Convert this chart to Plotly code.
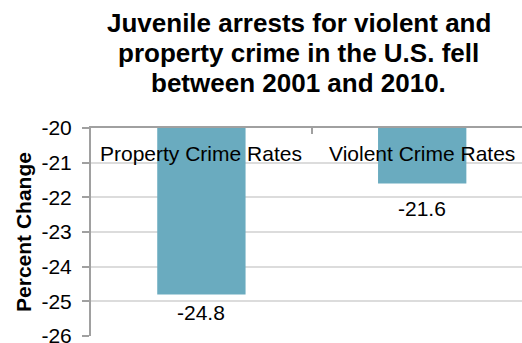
import plotly.graph_objects as go

categories = ["Property Crime Rates", "Violent Crime Rates"]
values = [-24.8, -21.6]
label_texts = ["-24.8", "-21.6"]
title_lines = ["Juvenile arrests for violent and",
               "property crime in the U.S. fell",
               "between 2001 and 2010."]
y_tickvals = [-26, -25, -24, -23, -22, -21, -20]
y_ticktext = ["-26", "-25", "-24", "-23", "-22", "-21", "-20"]

FONT = "Liberation Sans, Arial, sans-serif"
W, H = 522, 343
ML, MR, MT, MB = 91, 0, 128, 7
PH = H - MT - MB
PW = W - ML - MR
AXIS_GRAY = "#a0a0a0"
Y_TOP = -20

fig = go.Figure()
fig.add_trace(go.Bar(
    x=categories, y=values, width=0.4,
    marker=dict(color="#6aabbf", line=dict(width=0)),
    hoverinfo="skip",
))

label_shift = {0: -5, 1: -12}
for i, (c, v, t) in enumerate(zip(categories, values, label_texts)):
    fig.add_annotation(x=c, y=v, text=t, showarrow=False, yanchor="top",
                       yshift=label_shift[i], font=dict(family=FONT, size=21, color="#000"))

# category labels drawn just under the top axis line, inside the plot
for c in categories:
    fig.add_annotation(x=c, y=Y_TOP, text=c, showarrow=False, yanchor="middle",
                       yshift=-25, font=dict(family=FONT, size=21, color="#000"))

# title, one annotation per line (tighter line spacing than plotly's title)
title_centers_px = [23, 53, 83]
for line, ypx in zip(title_lines, title_centers_px):
    fig.add_annotation(text="<b>" + line + "</b>", xref="paper", yref="paper",
                       x=(298.5 - ML) / PW, y=(H - MB - ypx) / PH,
                       xanchor="center", yanchor="middle", showarrow=False,
                       font=dict(family=FONT, size=26, color="#000"))

fig.update_layout(
    width=W, height=H,
    margin=dict(l=ML, r=MR, t=MT, b=MB, autoexpand=False),
    paper_bgcolor="white", plot_bgcolor="white",
    font=dict(family=FONT, color="#000"),
    showlegend=False,
    xaxis=dict(type="category", categoryorder="array", categoryarray=categories,
               range=[-0.5, 1.452], side="top", showline=True, linecolor=AXIS_GRAY,
               linewidth=2, ticks="inside", tickson="boundaries", ticklen=6, tickwidth=2,
               tickcolor=AXIS_GRAY, showticklabels=False, showgrid=False,
               zeroline=False, fixedrange=True, automargin=False),
    yaxis=dict(range=[-26, -20], tickmode="array", tickvals=y_tickvals, ticktext=y_ticktext,
               ticks="outside", ticklen=7, tickwidth=2, ticklabeloverflow="allow",
               ticklabelstandoff=6, automargin=False,
               tickcolor=AXIS_GRAY, showline=True, linecolor=AXIS_GRAY, linewidth=2,
               gridcolor="#dcdcdc", gridwidth=1.5, zeroline=False,
               tickfont=dict(family=FONT, size=21, color="#000"),
               title=dict(text="<b>Percent Change</b>", standoff=4,
                          font=dict(family=FONT, size=21, color="#000")),
               fixedrange=True),
)

fig.write_html("out.html")
